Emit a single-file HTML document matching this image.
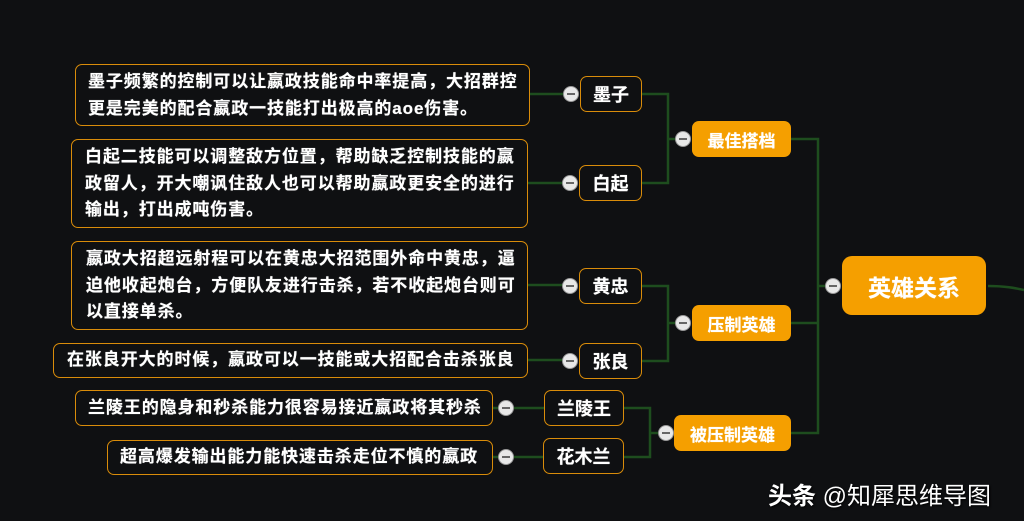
<!DOCTYPE html>
<html><head><meta charset="utf-8"><style>
body{margin:0;width:1024px;height:521px;background:#0f1012;overflow:hidden;position:relative;font-family:"Liberation Sans","Noto Sans CJK SC",sans-serif;font-weight:bold;color:#fff}
.b{position:absolute;box-sizing:border-box;border:1.5px solid #d98c0a;border-radius:7px;background:#0f1012;font-size:17px;line-height:26.5px;letter-spacing:0.9px;white-space:nowrap;text-shadow:0 0 0.6px #fff}
.h{position:absolute;box-sizing:border-box;border:1.5px solid #d98c0a;border-radius:7px;font-size:18px;display:flex;align-items:center;justify-content:center;text-shadow:0 0 0.6px #fff}
.c{position:absolute;box-sizing:border-box;background:#f59f00;border-radius:7px;font-size:17px;display:flex;align-items:center;justify-content:center;text-shadow:0 0 0.6px #fff}
.o{position:absolute;width:16px;height:16px;border-radius:50%;background:#e8e8e8;border:1px solid #999;box-sizing:border-box}
.o:after{content:"";position:absolute;left:3px;right:3px;top:6px;height:2px;background:#666}
</style></head><body>
<svg width="1024" height="521" style="position:absolute;left:0;top:0" fill="none" stroke="#1e4d1e" stroke-width="2.5">
<path d="M530 94H565M528 183H565M528 285H565M528 360H565M493 408H500M493 457H500M512 408H544M512 457H543"/>
<path d="M642 94H668V183H642M668 139H677"/>
<path d="M642 286H668V361H642M668 323H677"/>
<path d="M624 408H650V457H624M650 433H660"/>
<path d="M791 139H818V433H791M791 323H818M818 286H827"/>
<path d="M988 286C1005 286 1015 288 1024 290"/>
</svg>
<div class="b" style="left:75px;top:64px;width:455px;height:62px;padding:4px 0 0 12px">墨子频繁的控制可以让嬴政技能命中率提高，大招群控<br>更是完美的配合嬴政一技能打出极高的aoe伤害。</div>
<div class="b" style="left:71px;top:139px;width:457px;height:89px;padding:4px 0 0 13px">白起二技能可以调整敌方位置，帮助缺乏控制技能的嬴<br>政留人，开大嘲讽住敌人也可以帮助嬴政更安全的进行<br>输出，打出成吨伤害。</div>
<div class="b" style="left:71px;top:241px;width:457px;height:89px;padding:4px 0 0 14px">嬴政大招超远射程可以在黄忠大招范围外命中黄忠，逼<br>迫他收起炮台，方便队友进行击杀，若不收起炮台则可<br>以直接单杀。</div>
<div class="b" style="left:53px;top:343px;width:475px;height:35px;padding:3px 0 0 13px">在张良开大的时候，嬴政可以一技能或大招配合击杀张良</div>
<div class="b" style="left:75px;top:390px;width:418px;height:36px;padding:4px 0 0 12px">兰陵王的隐身和秒杀能力很容易接近嬴政将其秒杀</div>
<div class="b" style="left:107px;top:440px;width:386px;height:35px;padding:3px 0 0 12px">超高爆发输出能力能快速击杀走位不慎的嬴政</div>
<div class="o" style="left:563px;top:86px"></div>
<div class="o" style="left:562px;top:175px"></div>
<div class="o" style="left:562px;top:278px"></div>
<div class="o" style="left:562px;top:353px"></div>
<div class="o" style="left:498px;top:400px"></div>
<div class="o" style="left:498px;top:449px"></div>
<div class="h" style="left:580px;top:76px;width:62px;height:36px">墨子</div>
<div class="h" style="left:579px;top:165px;width:63px;height:36px">白起</div>
<div class="h" style="left:579px;top:268px;width:63px;height:36px">黄忠</div>
<div class="h" style="left:579px;top:343px;width:63px;height:36px">张良</div>
<div class="h" style="left:544px;top:390px;width:80px;height:36px">兰陵王</div>
<div class="h" style="left:543px;top:438px;width:81px;height:36px">花木兰</div>
<div class="o" style="left:675px;top:131px"></div>
<div class="o" style="left:675px;top:315px"></div>
<div class="o" style="left:658px;top:425px"></div>
<div class="c" style="left:692px;top:121px;width:99px;height:36px">最佳搭档</div>
<div class="c" style="left:692px;top:305px;width:99px;height:36px">压制英雄</div>
<div class="c" style="left:674px;top:415px;width:117px;height:36px">被压制英雄</div>
<div class="o" style="left:825px;top:278px"></div>
<div class="c" style="left:842px;top:256px;width:144px;height:59px;font-size:23px;border-radius:10px">英雄关系</div>
<div style="position:absolute;left:768px;top:476px;font-size:24px;font-weight:normal;white-space:nowrap;text-shadow:1px 1px 2px #000"><b>头条</b> @知犀思维导图</div>
</body></html>
